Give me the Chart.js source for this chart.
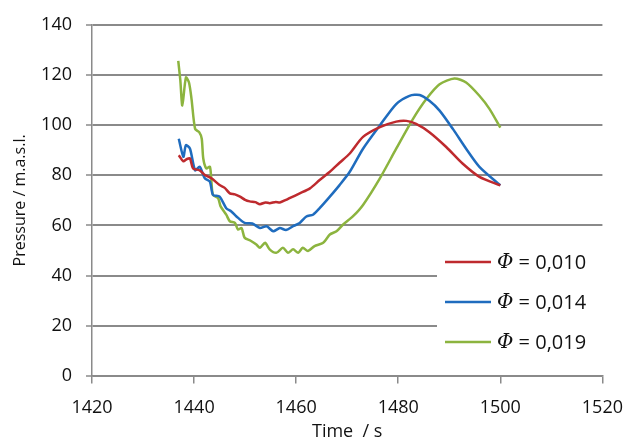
<!DOCTYPE html>
<html>
<head>
<meta charset="utf-8">
<script src="https://cdn.jsdelivr.net/npm/chart.js@4.4.1/dist/chart.umd.min.js"></script>
<style>
  html, body { margin: 0; padding: 0; background: #fff; }
  #wrap { width: 628px; height: 437px; position: relative; }
</style>
</head>
<body>
<div id="wrap"><canvas id="c" width="628" height="437"></canvas></div>
<script>
// ---- data ----
const seriesLabels = ["0,010", "0,014", "0,019"];

const tRed = [1437,1437.9,1438.6,1439.2,1439.8,1441.1,1442.1,1443.4,1445,1446,1447,1448,1449,1450,1450.9,1452,1452.9,1454,1454.8,1456,1456.8,1458,1458.7,1460.7,1462.7,1464.6,1466.6,1468.5,1470.5,1473.1,1476.4,1479.6,1481.6,1483.5,1486.1,1489.4,1492.6,1495.9,1500];
const pRed = [88,85.6,86.5,86.7,82.7,82,80.1,78.8,76.1,75,72.8,72.4,71.5,70.2,69.6,69.3,68.5,69.2,68.9,69.4,69.2,70.2,70.9,72.8,74.8,78.1,81.4,85,88.7,95.3,99.2,101.4,101.7,100.5,97.2,91.3,84.7,79.4,76];

const tBlue = [1437,1437.9,1438.4,1439.2,1440.2,1441.1,1442.1,1443.1,1443.7,1445,1446.3,1447.3,1448.3,1449.9,1451.4,1452.9,1454.2,1455.5,1456.8,1458,1459.4,1460.7,1462,1463.3,1464.6,1466.6,1468.5,1470.5,1473.1,1476.4,1479.6,1482.2,1484.2,1486.1,1488.1,1490.7,1493.3,1495.9,1500];
const pBlue = [94.6,87.4,92,90.6,82,83.4,78.8,77.5,72.2,71.5,66.9,65.6,63.6,61,60.8,59,59.7,57.7,59,58.2,59.7,61,63.6,64.3,66.9,71.5,76.1,81.4,90.6,99.9,108.4,111.7,112,109.7,105.8,98.5,90.6,83.4,76];

const tGreen = [1436.9,1437.3,1437.7,1438.4,1439,1439.5,1440.2,1441,1441.5,1441.8,1442.4,1443.1,1443.4,1443.7,1444.7,1445.2,1446.3,1447,1448,1448.6,1449.3,1449.9,1451,1452.2,1452.9,1453.9,1454.8,1456.1,1457.4,1458.4,1459.4,1460.4,1461.3,1462.3,1463.6,1465.3,1466.6,1467.9,1469.2,1471.1,1473.1,1476.4,1479.6,1482.9,1485.5,1488.1,1491,1493.3,1495.9,1497.9,1500];
const pGreen = [125.6,118,107.8,119,117,110.4,98.5,97.2,94.6,86.7,82.7,83.4,77.5,72.2,70.9,67.6,64.3,61.7,61,58.4,59,55.1,54,52.4,51.1,53.1,50.5,49.1,51.1,49.1,50.5,49.1,51.1,49.8,51.8,53.1,56.4,57.7,60.4,63.6,68.2,78.8,90.6,102.5,110.4,116.3,118.6,117,111.7,106.4,99];

const xTicks = [1420,1440,1460,1480,1500,1520];
const yTicks = [0,20,40,60,80,100,120,140];

const colors = ["#BE2A2E", "#1F6CBE", "#8CB43F"];

function pts(t, p) { return t.map((x, i) => ({ x: x, y: p[i] })); }

const FONT = "'Open Sans', sans-serif";
const GRID = "#8a8a8a";

const legendPlugin = {
  id: "customLegend",
  afterDatasetsDraw(chart) {
    const ctx = chart.ctx;
    ctx.save();
    ctx.fillStyle = "#fff";
    ctx.fillRect(437, 240, 166, 126);
    const ys = [262, 302, 342];
    chart.data.datasets.forEach((ds, i) => {
      const y = ys[i];
      ctx.strokeStyle = ds.borderColor;
      ctx.lineWidth = 2.5;
      ctx.beginPath();
      ctx.moveTo(445, y);
      ctx.lineTo(491, y);
      ctx.stroke();
      ctx.fillStyle = "#111";
      ctx.textBaseline = "middle";
      ctx.textAlign = "left";
      ctx.font = "italic 20px 'DejaVu Serif', serif";
      ctx.fillText("Φ", 497, y + 1);
      const w = ctx.measureText("Φ").width;
      ctx.font = "20px " + FONT;
      ctx.fillText(" = " + seriesLabels[i], 497 + w, y + 1);
    });
    ctx.restore();
  }
};

new Chart(document.getElementById("c"), {
  type: "line",
  data: {
    datasets: seriesLabels.map((lab, i) => ({
      label: "Φ = " + lab,
      data: [pts(tRed, pRed), pts(tBlue, pBlue), pts(tGreen, pGreen)][i],
      borderColor: colors[i],
      backgroundColor: colors[i],
      borderWidth: 2.5,
      pointRadius: 0,
      tension: 0.25,
      fill: false
    }))
  },
  options: {
    responsive: false,
    animation: false,
    devicePixelRatio: 1,
    layout: { padding: { top: 22, right: 21, left: 0, bottom: 0 } },
    plugins: { legend: { display: false }, tooltip: { enabled: false } },
    scales: {
      x: {
        type: "linear",
        min: 1420, max: 1520,
        afterBuildTicks(s) { s.ticks = xTicks.map(v => ({ value: v })); },
        afterFit(s) { s.height = 61; },
        grid: { drawOnChartArea: false, drawTicks: true, tickLength: 16, tickBorderDash: [7, 60], color: GRID, tickColor: GRID, lineWidth: 1.5 },
        border: { display: true, color: GRID, width: 1.5 },
        ticks: { color: "#111", font: { family: FONT, size: 18 }, padding: 5, maxRotation: 0, callback: v => String(v) },
        title: { display: true, text: "Time  / s", color: "#111", font: { family: FONT, size: 18 }, padding: { top: 0, bottom: -6 } }
      },
      y: {
        min: 0, max: 140,
        afterBuildTicks(s) { s.ticks = yTicks.map(v => ({ value: v })); },
        afterFit(s) { s.width = 92; },
        grid: { drawOnChartArea: true, drawTicks: true, tickLength: 6, color: GRID, lineWidth: 2, tickColor: GRID, tickWidth: 1.5 },
        border: { display: true, color: GRID, width: 1.5 },
        ticks: { color: "#111", font: { family: FONT, size: 18 }, padding: 14, callback: v => String(v) },
        title: { display: true, text: "Pressure / m.a.s.l.", color: "#111", font: { family: FONT, size: 16 }, padding: { top: 11, bottom: 0 } }
      }
    }
  },
  plugins: [legendPlugin]
});
</script>
</body>
</html>
